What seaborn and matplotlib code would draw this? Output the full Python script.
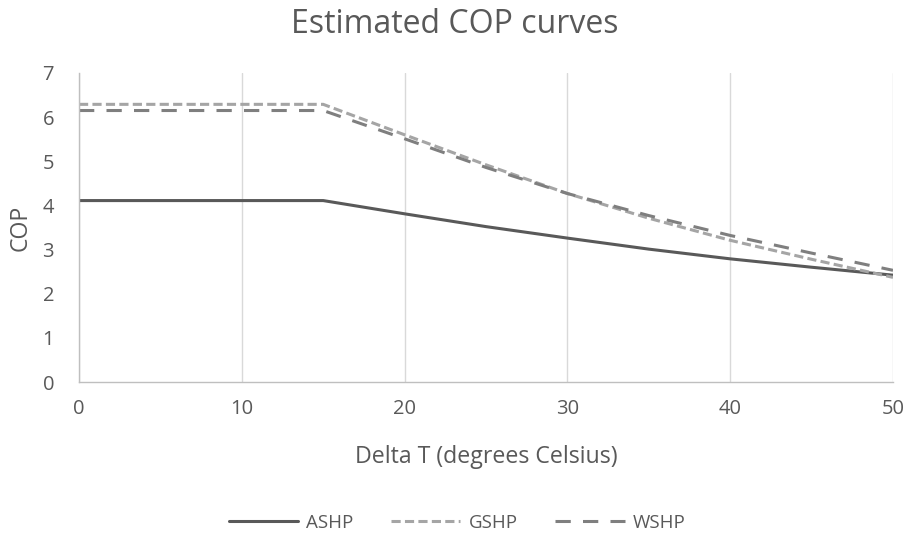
import matplotlib
matplotlib.use("Agg")
import matplotlib.pyplot as plt
import seaborn as sns
import pandas as pd

delta_t = [0, 15, 20, 25, 30, 35, 40, 45, 50]
ashp = [4.11, 4.11, 3.81, 3.52, 3.26, 3.01, 2.79, 2.60, 2.42]
gshp = [6.29, 6.29, 5.60, 4.92, 4.27, 3.71, 3.21, 2.78, 2.37]
wshp = [6.15, 6.15, 5.51, 4.86, 4.27, 3.77, 3.32, 2.92, 2.53]
series_names = ["ASHP", "GSHP", "WSHP"]
x_ticks = [0, 10, 20, 30, 40, 50]
y_ticks = [0, 1, 2, 3, 4, 5, 6, 7]

rows = []
for name, vals in zip(series_names, [ashp, gshp, wshp]):
    for x, y in zip(delta_t, vals):
        rows.append({"Delta T": x, "COP": y, "Series": name})
df = pd.DataFrame(rows)

sns.set_theme(style="white")
plt.rcParams["font.family"] = ["Open Sans", "DejaVu Sans"]

fig = plt.figure(figsize=(9.09, 5.39), dpi=100)
ax = fig.add_axes([79 / 909, 1 - 382 / 539, (893 - 79) / 909, (382 - 73) / 539])

palette = {"ASHP": "#595959", "GSHP": "#A5A5A5", "WSHP": "#7F7F7F"}
dashes = {"ASHP": "", "GSHP": (3.0, 1.4), "WSHP": (5.0, 4.0)}

sns.lineplot(data=df, x="Delta T", y="COP", hue="Series", style="Series",
             palette=palette, dashes=dashes, linewidth=2.2, ax=ax,
             legend=False)
for line in ax.get_lines():
    line.set_solid_capstyle("butt")
    line.set_dash_capstyle("butt")

ax.set_xlim(0, 50)
ax.set_ylim(0, 7)
ax.set_xticks(x_ticks)
ax.set_yticks(y_ticks)
ax.tick_params(axis="x", length=0, labelsize=14.5, colors="#595959", pad=12)
ax.tick_params(axis="y", length=0, labelsize=14.5, colors="#595959", pad=18)
ax.grid(axis="x", color="#D9D9D9", linewidth=1.0)
ax.grid(axis="y", visible=False)
for side in ["top", "right"]:
    ax.spines[side].set_visible(False)
for side in ["left", "bottom"]:
    ax.spines[side].set_color("#BFBFBF")
    ax.spines[side].set_linewidth(1.0)

ax.set_xlabel("Delta T (degrees Celsius)", fontsize=16.7, color="#595959", labelpad=19)
ax.set_ylabel("COP", fontsize=16.7, color="#595959", labelpad=7)
fig.suptitle("Estimated COP curves", fontsize=23, color="#595959", y=0.985)

handles = [plt.Line2D([], [], color=palette[n], linewidth=2.2,
                      dashes=(dashes[n] if dashes[n] else (None, None)))
           for n in series_names]
for h, n in zip(handles, series_names):
    if not dashes[n]:
        h.set_linestyle("-")
fig.legend(handles, series_names, loc="center", bbox_to_anchor=(0.503, 1 - 523 / 539),
           ncol=3, frameon=False, fontsize=13.5, handlelength=3.7, columnspacing=2.0,
           labelcolor="#595959", handletextpad=0.45)

fig.savefig("out.png", dpi=100)
